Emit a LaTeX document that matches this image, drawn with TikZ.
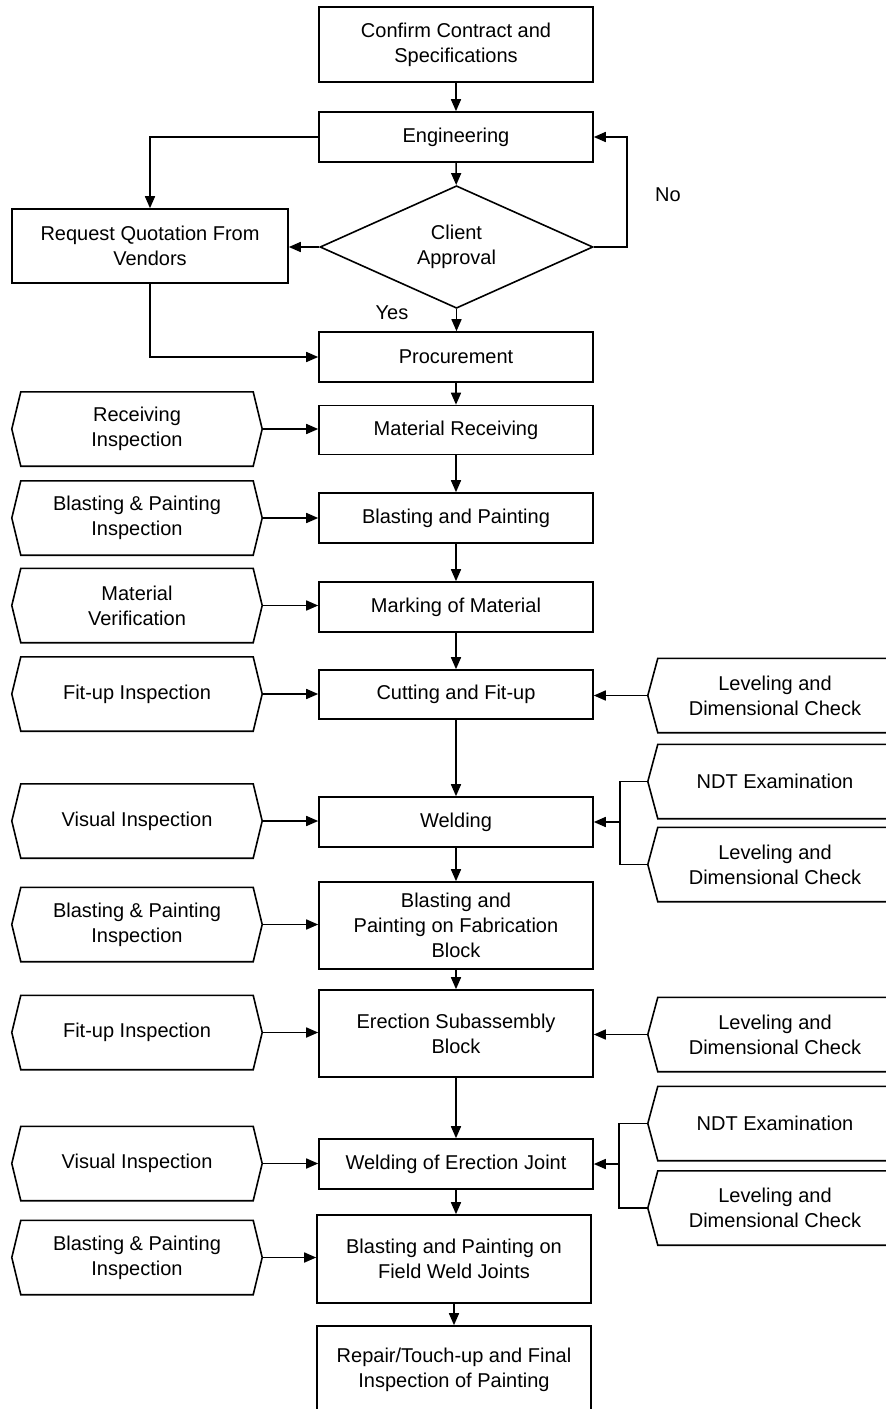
\documentclass[tikz,border=0pt]{standalone}
\usepackage{fontspec}
\setmainfont{Liberation Sans}
\usetikzlibrary{arrows.meta,shapes.geometric}
\newcommand\hexL[1]{\draw[ln] (#1.west) -- ([xshift=9pt]#1.north west) -- ([xshift=-9pt]#1.north east) -- (#1.east) -- ([xshift=-9pt]#1.south east) -- ([xshift=9pt]#1.south west) -- cycle;}
\newcommand\hexR[1]{\draw[ln] ([xshift=20pt]#1.north east) -- ([xshift=10pt]#1.north west) -- (#1.west) -- ([xshift=10pt]#1.south west) -- ([xshift=20pt]#1.south east);}
\begin{document}
\begin{tikzpicture}[x=1pt,y=-1pt,
  every node/.style={font=\fontsize{20}{25}\selectfont, align=center, inner sep=0pt},
  ln/.style={line width=1.6pt, line join=miter},
  box/.style={draw, line width=1.6pt, minimum width=274pt},
  hexnode/.style={minimum width=250pt, minimum height=74pt},
  rhexnode/.style={minimum width=254pt, minimum height=74pt},
  arr/.style={ln, -{Triangle[length=12pt,width=10pt]}},
  dec/.style={draw, line width=1.6pt, shape=diamond, minimum width=273pt, minimum height=122pt}
]
\useasboundingbox (0,0) rectangle (886,1409);
\clip (0,0) rectangle (886,1409);

% main column
\node[box, minimum height=75pt] (conf) at (456,44.5) {Confirm Contract and\\Specifications};
\node[box, minimum height=50pt] (eng) at (456,137) {Engineering};
\node[dec] (dia) at (456.5,247) {Client\\Approval};
\node[box, minimum width=276pt, minimum height=74pt] (req) at (150,246) {Request Quotation From\\Vendors};
\node[box, minimum height=50pt] (proc) at (456,357) {Procurement};
\node[box, minimum height=49pt] (mrec) at (456,430) {Material Receiving};
\node[box, minimum height=50pt] (bp) at (456,518) {Blasting and Painting};
\node[box, minimum height=50pt] (mark) at (456,607) {Marking of Material};
\node[box, minimum height=49pt] (cut) at (456,694.5) {Cutting and Fit-up};
\node[box, minimum height=50pt] (weld) at (456,822) {Welding};
\node[box, minimum height=87pt] (fab) at (456,925.5) {Blasting and\\Painting on Fabrication\\Block};
\node[box, minimum height=87pt] (erect) at (456,1033.5) {Erection Subassembly\\Block};
\node[box, minimum height=50pt] (wej) at (456,1164) {Welding of Erection Joint};
\node[box, minimum height=88pt] (field) at (454,1259) {Blasting and Painting on\\Field Weld Joints};
\node[box, minimum height=88pt] (rep) at (454,1370) {Repair/Touch-up and Final\\Inspection of Painting};

\node (no) at (668,195) {No};
\node (yes) at (392,313) {Yes};

% left inspection nodes
\node[hexnode] (rinsp) at (137,429) {Receiving\\Inspection}; \hexL{rinsp}
\node[hexnode] (bpi1) at (137,518) {Blasting \& Painting\\Inspection}; \hexL{bpi1}
\node[hexnode] (mv) at (137,605.5) {Material\\Verification}; \hexL{mv}
\node[hexnode] (fi1) at (137,694) {Fit-up Inspection}; \hexL{fi1}
\node[hexnode] (vi1) at (137,821) {Visual Inspection}; \hexL{vi1}
\node[hexnode] (bpi2) at (137,924.5) {Blasting \& Painting\\Inspection}; \hexL{bpi2}
\node[hexnode] (fi2) at (137,1032.5) {Fit-up Inspection}; \hexL{fi2}
\node[hexnode] (vi2) at (137,1163.5) {Visual Inspection}; \hexL{vi2}
\node[hexnode] (bpi3) at (137,1257.5) {Blasting \& Painting\\Inspection}; \hexL{bpi3}

% right check nodes
\node[rhexnode] (lev1) at (775,695.5) {Leveling and\\Dimensional Check}; \hexR{lev1}
\node[rhexnode] (ndt1) at (775,781.5) {NDT Examination}; \hexR{ndt1}
\node[rhexnode] (lev2) at (775,864.5) {Leveling and\\Dimensional Check}; \hexR{lev2}
\node[rhexnode] (lev3) at (775,1034.5) {Leveling and\\Dimensional Check}; \hexR{lev3}
\node[rhexnode] (ndt2) at (775,1123.5) {NDT Examination}; \hexR{ndt2}
\node[rhexnode] (lev4) at (775,1208) {Leveling and\\Dimensional Check}; \hexR{lev4}

% top connectors
\draw[arr] (conf) -- (eng);
\draw[arr] (eng) -- (dia);
\draw[arr] (eng.west) -| (req.north);
\draw[arr] (dia.west) -- (dia.west -| req.east);
\coordinate (nocorner) at (627,247);
\draw[arr] (dia.east) -- (nocorner) |- (eng.east);
\draw[arr] (dia.south) -- (dia.south |- proc.north);
\draw[arr] (req.south) |- (proc.west);

% main chain
\draw[arr] (proc) -- (mrec);
\draw[arr] (mrec) -- (bp);
\draw[arr] (bp) -- (mark);
\draw[arr] (mark) -- (cut);
\draw[arr] (cut) -- (weld);
\draw[arr] (weld) -- (fab);
\draw[arr] (fab) -- (erect);
\draw[arr] (erect) -- (wej);
\draw[arr] (wej.south) -- (wej.south |- field.north);
\draw[arr] (field) -- (rep);

% left inputs
\foreach \a/\b in {rinsp/mrec, bpi1/bp, mv/mark, fi1/cut, vi1/weld, bpi2/fab, fi2/erect, vi2/wej, bpi3/field}
  \draw[arr] (\a.east) -- (\a.east -| \b.west);

% right inputs
\draw[arr] (lev1.west) -- (lev1.west -| cut.east);
\draw[arr] (lev3.west) -- (lev3.west -| erect.east);
\coordinate (b1) at (620,822);
\draw[ln] (ndt1.west) -- (ndt1.west -| b1) -- (lev2.west -| b1) -- (lev2.west);
\draw[arr] (b1) -- (b1 -| weld.east);
\coordinate (b2) at (619,1164);
\draw[ln] (ndt2.west) -- (ndt2.west -| b2) -- (lev4.west -| b2) -- (lev4.west);
\draw[arr] (b2) -- (b2 -| wej.east);
\end{tikzpicture}
\end{document}
